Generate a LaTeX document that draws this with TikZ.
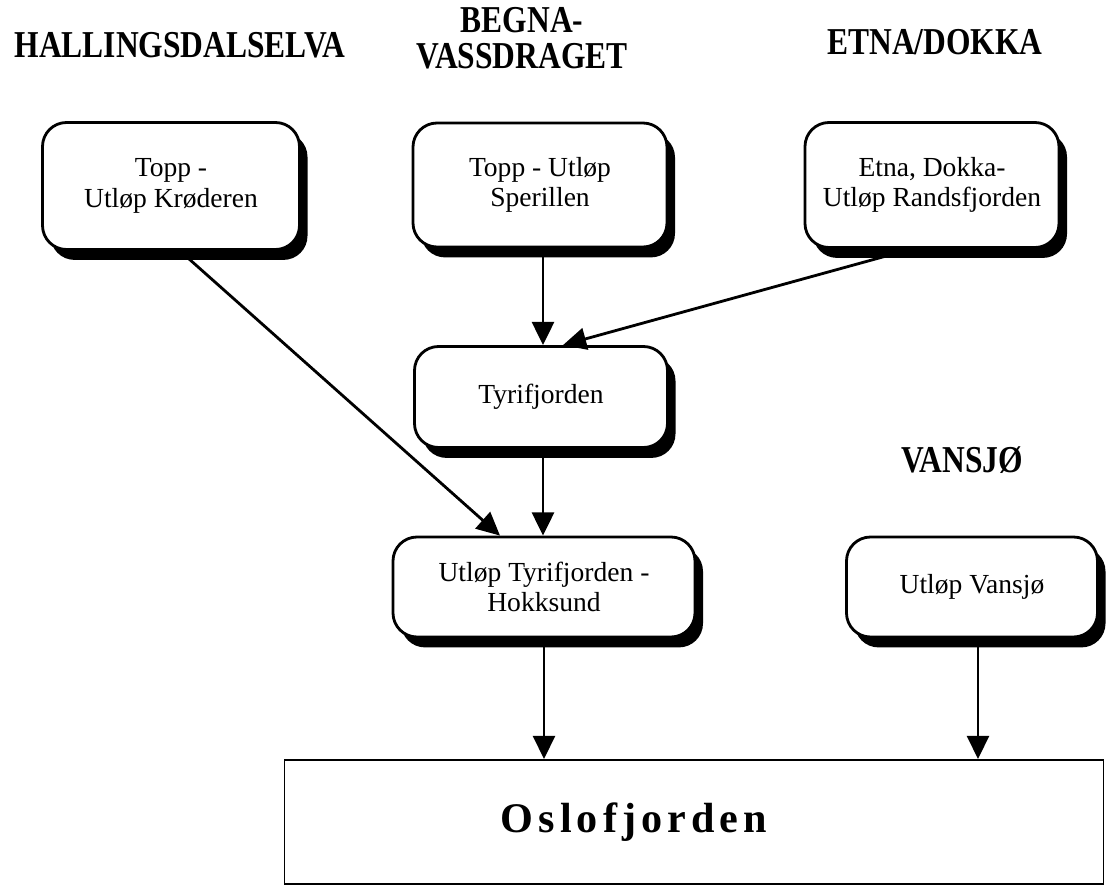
\documentclass[tikz,border=0pt]{standalone}
\usepackage{fontspec}
\setmainfont{Liberation Serif}
\usetikzlibrary{arrows.meta,shadows,calc}
\newcommand\px{0.025cm}
\begin{document}
\begin{tikzpicture}[x=\px,y=-\px,>={Triangle[length=5.8mm,width=5.5mm]}]
\tikzset{reach/.style={draw,line width=2pt,rounded corners=6mm,fill=white,align=center,
    inner sep=0pt,font=\fontsize{19.6}{21.8}\selectfont,
    drop shadow={shadow xshift=2mm,shadow yshift=-2.6mm,fill=black,opacity=1}},
  head/.style={align=center,xscale=0.83,font=\fontsize{27}{25.5}\selectfont\bfseries},
  flow/.style={->,line width=2pt}}
\useasboundingbox (0,0) rectangle (1106,887);
% catchment names
\node(hall) at (180,45) [head] {HALLINGSDALSELVA};
\node(begna) at (522,38) [head] {BEGNA-\\VASSDRAGET};
\node(etna) at (935,42) [head] {ETNA/DOKKA};
\node(vansh) at (962,460) [head] {VANSJØ};
% reaches
\node(krod) at (171,186) [reach,minimum width=257*\px,minimum height=127*\px] {Topp -\\Utløp Krøderen};
\node(speri) at (540,185) [reach,minimum width=254*\px,minimum height=124*\px] {Topp - Utløp\\Sperillen};
\node(rands) at (932,185) [reach,minimum width=254*\px,minimum height=125*\px] {Etna, Dokka-\\Utløp Randsfjorden};
\node(tyri) at (541,397) [reach,minimum width=253*\px,minimum height=101*\px] {Tyrifjorden};
\node(hokk) at (544,587) [reach,minimum width=302*\px,minimum height=100*\px] {Utløp Tyrifjorden -\\Hokksund};
\node(vans) at (972,587) [reach,minimum width=251*\px,minimum height=100*\px] {Utløp Vansjø};
\node(oslo) at (694,822) [draw,line width=1.4pt,minimum width=819*\px,minimum height=124*\px,
  label={[font=\fontsize{30}{32}\selectfont\bfseries\addfontfeatures{LetterSpace=12},xshift=-60*\px]center:Oslofjorden}] {};
% flow
\draw[flow] ($(krod.south)+(9,0)$) -- ($(hokk.north)+(-44,0)$);
\draw[flow] ($(speri.south)+(3,0)$) -- ($(tyri.north)+(2,0)$);
\draw[flow] ($(rands.south)+(-20,0)$) -- ($(tyri.north)+(22,0)$);
\draw[flow] ($(tyri.south)+(2,0)$) -- ($(hokk.north)+(-1,0)$);
\draw[flow] (hokk.south) -- (hokk.south |- oslo.north);
\draw[flow] ($(vans.south)+(6,0)$) -- ($(vans.south |- oslo.north)+(6,0)$);
\end{tikzpicture}
\end{document}
